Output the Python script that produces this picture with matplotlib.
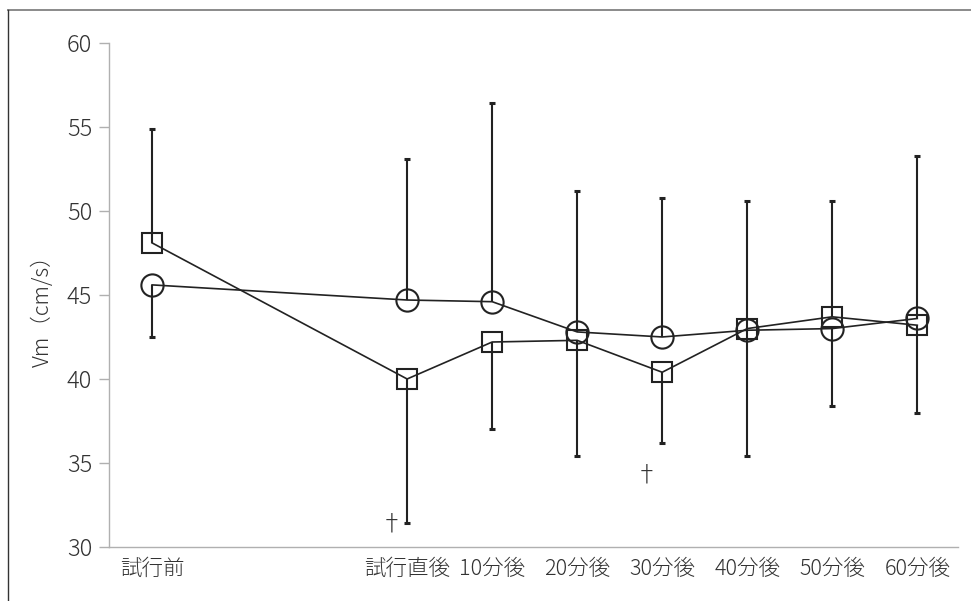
import numpy as np
import matplotlib
matplotlib.use("Agg")
import matplotlib.pyplot as plt
from matplotlib.lines import Line2D

plt.rcParams['font.family'] = ['Noto Sans CJK JP', 'DejaVu Sans']
plt.rcParams['font.weight'] = 'light'

# Measurement time points and their position on the time axis
categories = ['試行前', '試行直後', '10分後', '20分後', '30分後', '40分後', '50分後', '60分後']
time_slots = [0, 3, 4, 5, 6, 7, 8, 9]

# Group drawn with open circles: mean, SD and the side the SD bar is drawn on
circle_mean = [45.6, 44.7, 44.6, 42.8, 42.5, 42.9, 43.0, 43.6]
circle_sd = [3.1, 8.4, 11.8, 8.4, 8.3, 7.7, 4.6, 9.7]
circle_side = [-1, 1, 1, 1, 1, 1, -1, 1]

# Group drawn with open squares (SD bar on the opposite side)
square_mean = [48.1, 40.0, 42.2, 42.3, 40.4, 43.0, 43.7, 43.2]
square_sd = [6.8, 8.6, 5.2, 6.9, 4.2, 7.6, 6.9, 5.2]

# Significance marks (†) next to these time points
dagger_slots = [3, 6]
dagger_y = [31.37, 34.3]

ink = '#222222'
axis_grey = '#b0b0b0'
text_grey = '#333333'

fig = plt.figure(figsize=(9.71, 6.01), dpi=100)
ax = fig.add_axes([0.1123, 0.0899, 0.8744, 0.8386])

x = np.array(time_slots, dtype=float)
cm = np.array(circle_mean)
sm = np.array(square_mean)
side = np.array(circle_side)
c_end = cm + side * np.array(circle_sd)
s_end = sm - side * np.array(square_sd)

# SD bars (one-sided) with caps
for means, ends in ((cm, c_end), (sm, s_end)):
    ax.vlines(x, means, ends, colors=ink, linewidth=1.5, zorder=2)
    ax.plot(x, ends, linestyle='none', marker='_', markersize=5,
            markeredgewidth=2.2, color=ink, zorder=2)

# Mean lines with open markers
ax.plot(x, cm, color=ink, linewidth=1.2, marker='o', markersize=16,
        markerfacecolor='none', markeredgecolor=ink, markeredgewidth=1.5, zorder=3)
ax.plot(x, sm, color=ink, linewidth=1.2, marker='s', markersize=15,
        markerfacecolor='none', markeredgecolor=ink, markeredgewidth=1.5, zorder=3)

for xs, ys in zip(dagger_slots, dagger_y):
    ax.text(xs - 0.185, ys, '†', ha='center', va='center', fontsize=17,
            color=text_grey)

ax.set_xlim(-0.506, 9.48)
ax.set_ylim(30, 60)
ax.set_yticks([30, 35, 40, 45, 50, 55, 60])
ax.set_xticks(time_slots)
ax.set_xticklabels(categories)

for s in ('top', 'right'):
    ax.spines[s].set_visible(False)
for s in ('left', 'bottom'):
    ax.spines[s].set_color(axis_grey)
    ax.spines[s].set_linewidth(1.0)

ax.tick_params(axis='y', direction='out', length=7.2, width=1.0, color=axis_grey,
               labelsize=17, labelcolor=text_grey, pad=5)
ax.tick_params(axis='x', length=0, labelsize=15.5, labelcolor=text_grey, pad=8)

fig.text(43 / 971, 1 - 306 / 601, 'Vm（cm/s）', rotation=90, ha='center', va='center',
         fontsize=15.5, color=text_grey)

# Frame lines along the top and left edges of the figure
fig.add_artist(Line2D([8 / 971, 1.0], [1 - 10 / 601, 1 - 10 / 601],
                      transform=fig.transFigure, color='#8a8a8a', linewidth=1.4))
fig.add_artist(Line2D([8 / 971, 8 / 971], [0.0, 1 - 10 / 601],
                      transform=fig.transFigure, color='#333333', linewidth=1.0))

fig.savefig('out.png', dpi=100)
